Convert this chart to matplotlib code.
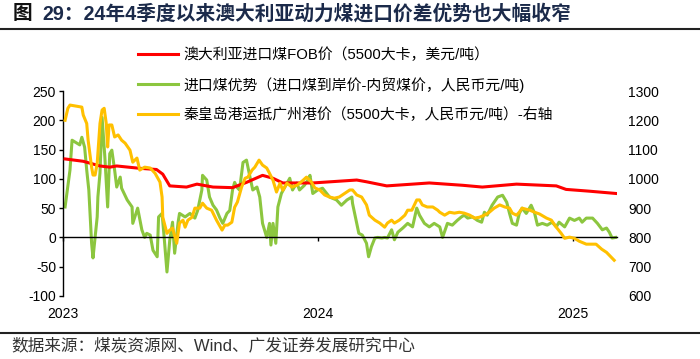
import matplotlib
matplotlib.use("Agg")
import matplotlib.pyplot as plt
import pandas as pd

plt.rcParams['font.family'] = ['Liberation Sans', 'Noto Sans CJK SC', 'DejaVu Sans']
plt.rcParams['axes.unicode_minus'] = False

# ---- data ----
fob_dates = ['2023-01-04', '2023-01-30', '2023-02-23', '2023-03-09', '2023-03-19', '2023-04-21',
             '2023-05-15', '2023-05-24', '2023-06-03', '2023-06-27', '2023-07-12', '2023-08-04',
             '2023-09-01', '2023-09-21', '2023-10-14', '2023-10-29', '2023-11-12', '2023-12-25',
             '2024-02-26', '2024-03-11', '2024-04-09', '2024-05-16', '2024-06-09', '2024-07-27',
             '2024-08-24', '2024-10-12', '2024-12-08', '2024-12-22', '2025-01-24', '2025-03-04']
fob_usd = [134, 130, 122, 120, 122, 118, 116, 108, 88, 86, 91, 86,
           85, 94, 106, 101, 93, 93, 98, 95, 88, 91, 93, 89,
           86, 91, 88, 82, 79, 75]

adv_dates = ['2023-01-04', '2023-01-11', '2023-01-14', '2023-01-25', '2023-01-28', '2023-02-01',
             '2023-02-04', '2023-02-07', '2023-02-11', '2023-02-13', '2023-02-19', '2023-02-20',
             '2023-02-23', '2023-02-26', '2023-03-02', '2023-03-06', '2023-03-09', '2023-03-12',
             '2023-03-16', '2023-03-19', '2023-03-24', '2023-03-26', '2023-04-03', '2023-04-10',
             '2023-04-11', '2023-04-18', '2023-04-24', '2023-04-28', '2023-05-01', '2023-05-06',
             '2023-05-10', '2023-05-16', '2023-05-18', '2023-05-23', '2023-05-26', '2023-05-30',
             '2023-06-03', '2023-06-07', '2023-06-10', '2023-06-15', '2023-06-17', '2023-06-25',
             '2023-07-02', '2023-07-09', '2023-07-13', '2023-07-19', '2023-07-20', '2023-07-26',
             '2023-07-30', '2023-08-04', '2023-08-09', '2023-08-14', '2023-08-18', '2023-08-24',
             '2023-08-28', '2023-09-01', '2023-09-04', '2023-09-07', '2023-09-11', '2023-09-16',
             '2023-09-21', '2023-09-26', '2023-09-30', '2023-10-06', '2023-10-10', '2023-10-14',
             '2023-10-20', '2023-10-24', '2023-10-26', '2023-10-29', '2023-11-02', '2023-11-05',
             '2023-11-10', '2023-11-15', '2023-11-22', '2023-11-26', '2023-12-02', '2023-12-06',
             '2023-12-13', '2023-12-18', '2023-12-21', '2023-12-25', '2024-01-01', '2024-01-08',
             '2024-01-14', '2024-01-18', '2024-01-28', '2024-02-04', '2024-02-12', '2024-02-19',
             '2024-02-20', '2024-02-26', '2024-02-29', '2024-03-05', '2024-03-11', '2024-03-14',
             '2024-03-18', '2024-03-23', '2024-03-27', '2024-04-02', '2024-04-06', '2024-04-10',
             '2024-04-16', '2024-04-20', '2024-04-25', '2024-05-02', '2024-05-09', '2024-05-16',
             '2024-05-22', '2024-05-26', '2024-06-02', '2024-06-09', '2024-06-16', '2024-06-24',
             '2024-06-28', '2024-07-05', '2024-07-12', '2024-07-19', '2024-07-25', '2024-07-29',
             '2024-08-03', '2024-08-10', '2024-08-17', '2024-08-23', '2024-08-27', '2024-08-31',
             '2024-09-07', '2024-09-15', '2024-09-22', '2024-09-28', '2024-10-02', '2024-10-06',
             '2024-10-12', '2024-10-16', '2024-10-20', '2024-10-26', '2024-11-02', '2024-11-07',
             '2024-11-11', '2024-11-18', '2024-11-25', '2024-12-02', '2024-12-08', '2024-12-12',
             '2024-12-20', '2024-12-27', '2025-01-03', '2025-01-10', '2025-01-14', '2025-01-20',
             '2025-01-29', '2025-02-05', '2025-02-12', '2025-02-18', '2025-02-22', '2025-02-26',
             '2025-03-03']
adv_rmb = [52, 115, 166, 158, 171, 154,
           115, 81, -10, -35, 35, 69,
           110, 205, 137, 52, 143, 149,
           115, 86, 103, 84, 64, 52,
           24, 50, 13, 0, 7, 4,
           -22, -33, 35, 41, 0, -59,
           -5, 26, -27, 26, 41, 35,
           41, 33, 46, 81, 106, 98,
           69, 55, 47, 33, 24, 41,
           46, 81, 94, 86, 81, 128,
           132, 103, 81, 86, 69, 24,
           0, 24, -13, 24, -10, 52,
           75, 86, 101, 81, 93, 81,
           89, 98, 106, 75, 81, 84,
           75, 69, 64, 55, 64, 69,
           58, 24, 7, 4, -10, -33,
           -16, -1, 0, -1, 0, -1,
           13, -4, 9, 16, 24, 18,
           50, 38, 24, 18, 24, 18,
           0, 24, 21, 29, 35, 38,
           33, 35, 29, 26, 43, 38,
           55, 69, 72, 60, 41, 24,
           21, 41, 50, 41, 55, 41,
           21, 24, 21, 26, 18, 26,
           18, 33, 29, 33, 26, 33,
           33, 24, 13, 16, 9, -1,
           0]

gz_dates = ['2023-01-04', '2023-01-08', '2023-01-11', '2023-01-28', '2023-01-30', '2023-02-04',
            '2023-02-06', '2023-02-11', '2023-02-13', '2023-02-16', '2023-02-19', '2023-02-20',
            '2023-02-23', '2023-02-26', '2023-03-01', '2023-03-04', '2023-03-06', '2023-03-08',
            '2023-03-12', '2023-03-16', '2023-03-21', '2023-03-26', '2023-03-31', '2023-04-07',
            '2023-04-11', '2023-04-17', '2023-04-21', '2023-04-28', '2023-05-06', '2023-05-13',
            '2023-05-20', '2023-05-23', '2023-05-24', '2023-05-30', '2023-06-03', '2023-06-07',
            '2023-06-13', '2023-06-17', '2023-06-22', '2023-06-25', '2023-06-29', '2023-07-05',
            '2023-07-09', '2023-07-16', '2023-07-20', '2023-07-26', '2023-08-02', '2023-08-09',
            '2023-08-17', '2023-08-21', '2023-08-25', '2023-08-31', '2023-09-04', '2023-09-08',
            '2023-09-14', '2023-09-19', '2023-09-23', '2023-09-29', '2023-10-03', '2023-10-09',
            '2023-10-14', '2023-10-20', '2023-10-24', '2023-10-29', '2023-11-03', '2023-11-08',
            '2023-11-12', '2023-11-18', '2023-11-25', '2023-12-03', '2023-12-11', '2023-12-16',
            '2023-12-23', '2023-12-28', '2024-01-04', '2024-01-11', '2024-01-18', '2024-01-25',
            '2024-02-01', '2024-02-09', '2024-02-16', '2024-02-20', '2024-02-26', '2024-03-04',
            '2024-03-11', '2024-03-15', '2024-03-23', '2024-03-30', '2024-04-06', '2024-04-10',
            '2024-04-16', '2024-04-20', '2024-04-27', '2024-05-05', '2024-05-09', '2024-05-15',
            '2024-05-22', '2024-05-26', '2024-05-30', '2024-06-06', '2024-06-14', '2024-06-21',
            '2024-06-24', '2024-07-01', '2024-07-08', '2024-07-15', '2024-07-22', '2024-07-29',
            '2024-08-06', '2024-08-13', '2024-08-20', '2024-08-27', '2024-09-03', '2024-09-10',
            '2024-09-18', '2024-09-25', '2024-10-02', '2024-10-06', '2024-10-12', '2024-10-16',
            '2024-10-20', '2024-10-31', '2024-11-07', '2024-11-14', '2024-11-24', '2024-12-01',
            '2024-12-08', '2024-12-15', '2024-12-20', '2024-12-27', '2025-01-03', '2025-01-10',
            '2025-01-20', '2025-02-03', '2025-02-11', '2025-02-18', '2025-02-25', '2025-03-01']
gz_rmb = [1200, 1241, 1252, 1245, 1218, 1189,
          1132, 1040, 1013, 1013, 1053, 1088,
          1189, 1235, 1241, 1189, 1109, 1184,
          1184, 1143, 1150, 1132, 1122, 1098,
          1057, 1071, 1030, 1040, 1037, 1019,
          989, 938, 869, 814, 825, 832,
          780, 849, 859, 835, 859, 869,
          900, 900, 917, 900, 893, 859,
          825, 842, 842, 852, 903, 921,
          972, 1002, 1006, 1030, 1040, 1064,
          1047, 1037, 1019, 995, 955, 985,
          961, 985, 972, 979, 995, 1006,
          989, 969, 962, 945, 938, 934,
          938, 951, 962, 962, 945, 938,
          911, 876, 859, 849, 835, 849,
          859, 849, 859, 876, 893, 893,
          928, 928, 911, 904, 904, 893,
          886, 876, 886, 883, 886, 883,
          876, 866, 869, 876, 886, 900,
          911, 904, 900, 883, 876, 886,
          900, 893, 886, 880, 866, 859,
          835, 814, 797, 801, 797, 787,
          777, 777, 760, 749, 732, 722]

year_ticks = ['2023-01-01', '2024-01-01', '2025-01-01']
year_labels = ['2023', '2024', '2025']

labels = ['澳大利亚进口煤FOB价（5500大卡，美元/吨）',
          '进口煤优势（进口煤到岸价-内贸煤价，人民币元/吨)',
          '秦皇岛港运抵广州港价（5500大卡，人民币元/吨）-右轴']

# ---- figure ----
fig = plt.figure(figsize=(7.0, 3.59), dpi=100)
ax = fig.add_axes([0.09, 0.1755, 0.7914, 0.571])
ax2 = ax.twinx()

l1, = ax.plot(pd.to_datetime(fob_dates), fob_usd, color='#ff0000', lw=2.2, zorder=3)
l2, = ax.plot(pd.to_datetime(adv_dates), adv_rmb, color='#8cc63f', lw=2.2, zorder=2)
l3, = ax2.plot(pd.to_datetime(gz_dates), gz_rmb, color='#ffc000', lw=2.2)

ax.set_xlim(pd.Timestamp('2023-01-01'), pd.Timestamp('2025-03-05'))
ax.set_ylim(-100, 250)
ax.set_yticks(range(-100, 251, 50))
ax2.set_ylim(600, 1300)
ax2.set_yticks(range(600, 1301, 100))

# bottom spine sits on the zero line, labels go below the plot
for s in ['top', 'right']:
    ax.spines[s].set_visible(False)
for s in ['top', 'right', 'left', 'bottom']:
    ax2.spines[s].set_visible(False)
ax.spines['bottom'].set_position(('data', 0))
ax.spines['bottom'].set_linewidth(1.0)
ax.spines['left'].set_linewidth(1.0)
ax.set_xticks(pd.to_datetime(year_ticks))
ax.tick_params(axis='x', direction='out', length=3, width=1, labelbottom=False)
ax.tick_params(axis='y', direction='out', length=3, width=1, pad=2, labelsize=10)
ax2.tick_params(axis='y', length=0, pad=8, labelsize=10)

sec = ax.secondary_xaxis('bottom')
sec.set_xticks(pd.to_datetime(year_ticks), labels=year_labels)
sec.tick_params(length=0, pad=8, labelsize=10)
sec.spines['bottom'].set_visible(False)

fig.legend([l1, l2, l3], labels, loc='upper left', bbox_to_anchor=(0.197, 0.868),
           frameon=False, fontsize=10.7, handlelength=2.7, handletextpad=0.35,
           labelspacing=1.0, borderpad=0, borderaxespad=0)

# ---- title, rules and source ----
fig.text(13 / 700, 0.962, '图', fontsize=14.2, fontweight='bold', color='#111111', va='center')
fig.text(42 / 700, 0.962, '29：24年4季度以来澳大利亚动力煤进口价差优势也大幅收窄',
         fontsize=14.2, fontweight='bold', color='#1b2a4a', va='center')
fig.add_artist(plt.Line2D([0, 1], [1 - 29 / 359, 1 - 29 / 359], color='#222222', lw=1.5))
fig.add_artist(plt.Line2D([0, 1], [1 - 333 / 359, 1 - 333 / 359], color='#222222', lw=1.5))
fig.text(11 / 700, 1 - 345 / 359, '数据来源：煤炭资源网、Wind、广发证券发展研究中心',
         fontsize=12, color='#333333', va='center')

fig.savefig('out.png', dpi=100)
